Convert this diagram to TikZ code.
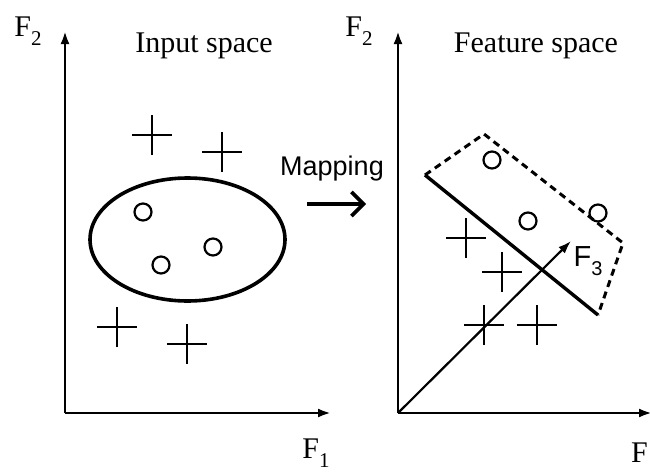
\documentclass[tikz,border=0pt]{standalone}
\usepackage{fontspec}
\setmainfont{Liberation Serif}
\newfontfamily\arialfont{Liberation Sans}
\usetikzlibrary{arrows.meta,shapes.geometric,shapes.misc}
\newcommand{\lowsub}[1]{\raisebox{-0.28em}{\fontsize{21}{21}\selectfont #1}}
\begin{document}
\begin{tikzpicture}[x=1pt,y=-1pt,
  axis/.style={line width=2.6pt,-{Latex[length=13pt,width=9pt]}},
  pt/.style={draw,circle,line width=2.2pt,minimum size=17pt,inner sep=0pt},
  plussign/.style={draw,cross out,rotate=45,line width=2.4pt,minimum size=26pt,inner sep=0pt},
  lab/.style={font=\fontsize{30}{34}\selectfont,inner sep=0pt},
  sanslab/.style={font=\arialfont\fontsize{27}{32}\selectfont,inner sep=0pt}]
\useasboundingbox (0,0) rectangle (650,471);
% left panel
\coordinate (Lo) at (65,413);
\coordinate (Ly) at (65,31);
\coordinate (Lx) at (331,413);
\draw[axis] (Lo) -- (Ly);
\draw[axis] (Lo) -- (Lx);
\node[lab] (lF2) at (28,31) {F\lowsub{2}};
\node[lab] (lF1) at (316,453) {F\lowsub{1}};
\node[lab] (tin) at (204,46) {Input space};
\node[draw,ellipse,line width=3.6pt,minimum width=195pt,minimum height=123pt] (ell) at (187.5,239.5) {};
\node[pt] (c1) at (143,212) {};
\node[pt] (c2) at (161,265) {};
\node[pt] (c3) at (213,247) {};
\node[plussign] (p1) at (152,135) {};
\node[plussign] (p2) at (222,152) {};
\node[plussign] (p3) at (117,327) {};
\node[plussign] (p4) at (187,344) {};
% mapping
\node[sanslab] (map) at (332,169) {Mapping};
\coordinate (ma) at (307,204);
\coordinate (mb) at (366,204);
\draw[line width=3.6pt,-{Straight Barb[length=12pt,width=24pt]}] (ma) -- (mb);
% right panel
\coordinate (Ro) at (398,413);
\coordinate (Ry) at (398,31);
\coordinate (Rx) at (652,413);
\coordinate (Rz) at (571,241);
\draw[axis] (Ro) -- (Ry);
\draw[axis] (Ro) -- (Rx);
\draw[line width=2.2pt,-{Latex[length=13pt,width=9pt]}] (Ro) -- (Rz);
\node[lab] (rF2) at (359,31) {F\lowsub{2}};
\node[lab,anchor=west] (rF1) at (631,453) {F};
\node[lab] (tfe) at (536,46) {Feature space};
\node[inner sep=0pt,font=\arialfont\fontsize{29}{32}\selectfont] (F3) at (588,261) {F\raisebox{-0.3em}{\fontsize{20}{20}\selectfont 3}};
\coordinate (h1) at (425,175);
\coordinate (h2) at (598,315);
\coordinate (d1) at (484,134);
\coordinate (d2) at (623,243);
\draw[line width=3.4pt] (h1) -- (h2);
\draw[line width=3pt,dash pattern=on 7pt off 5pt] (h1) -- (d1) -- (d2) -- (h2);
\node[pt] (c4) at (492,160) {};
\node[pt] (c5) at (528,221) {};
\node[pt] (c6) at (598,213) {};
\node[plussign] (p5) at (466,238) {};
\node[plussign] (p6) at (502,272) {};
\node[plussign] (p7) at (484,325) {};
\node[plussign] (p8) at (537,325) {};
\end{tikzpicture}
\end{document}
